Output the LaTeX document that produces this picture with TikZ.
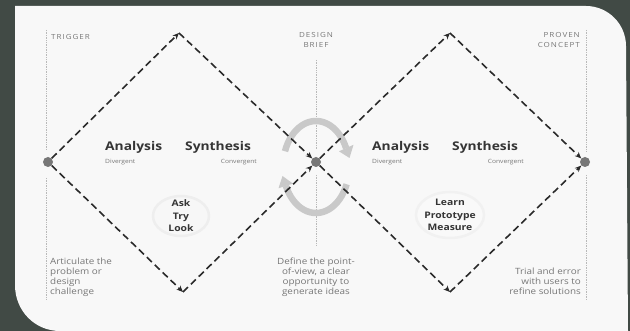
\documentclass[tikz,border=0pt]{standalone}
\usepackage{fontspec}
\setmainfont{Open Sans}[FakeStretch=1.15]
\usetikzlibrary{arrows.meta}
\definecolor{bgdark}{HTML}{414A45}
\definecolor{card}{HTML}{F8F8F8}
\definecolor{dashc}{HTML}{2A2A2A}
\definecolor{dotc}{HTML}{777777}
\definecolor{smallc}{HTML}{777777}
\definecolor{bigc}{HTML}{353535}
\definecolor{cycc}{HTML}{C9C9C9}
\begin{document}
\begin{tikzpicture}[x=1pt,y=-1pt,
  dashline/.style={draw=dashc,line width=1.6pt,dash pattern=on 7pt off 4pt,-{Stealth[length=6.5pt,width=5.5pt]}},
  bigdot/.style={circle,fill=dotc,minimum size=10pt,inner sep=0pt},
  vline/.style={draw=gray!55,line width=0.7pt,densely dotted},
  biglab/.style={inner sep=0pt,text=bigc,font=\fontsize{12}{14}\selectfont\bfseries},
  sublab/.style={inner sep=0pt,text=smallc,font=\fontsize{5.8}{7}\selectfont},
  caplab/.style={inner sep=0pt,text=smallc,font=\fontsize{7}{10.5}\selectfont\addfontfeature{LetterSpace=14}},
  desc/.style={inner sep=0pt,text=smallc,font=\fontsize{8.6}{10}\selectfont},
  method/.style={inner sep=0pt,text=bigc,font=\fontsize{9}{12.5}\selectfont\bfseries,align=center},
  cyc/.style={draw=cycc,line width=6.5pt},
  cychead/.style={fill=cycc}
]
\useasboundingbox (0,0) rectangle (630,331);
\fill[bgdark] (0,0) rectangle (630,331);
\fill[card] (15,6) -- (586,6) .. controls (608,6) and (626,24) .. (626,46) -- (628,331) -- (60,331) .. controls (35,331) and (15,311) .. (15,285) -- cycle;

% vertical guide lines
\draw[vline] (46,30) -- (46,150);
\draw[vline] (46,178) -- (46,300);
\draw[vline] (316,60) -- (316,150);
\draw[vline] (316,175) -- (316,245);
\draw[vline] (586,30) -- (586,152);
\draw[vline] (586,175) -- (586,300);

% central cycle arrows
\draw[cyc] (316,167) ++(200:33 and 46) arc[start angle=200,end angle=336,x radius=33,y radius=46];
\fill[cychead] (349.5,158) -- (339,151.3) -- (353.5,144.8) -- cycle;
\draw[cyc] (316,167) ++(22:33 and 46) arc[start angle=22,end angle=156,x radius=33,y radius=46];
\fill[cychead] (282.5,176) -- (293,183.6) -- (278.5,188.3) -- cycle;

% glows
\fill[gray!6] (181,216) ellipse[x radius=28,y radius=20];
\draw[gray!13,line width=2.5pt] (181,216) ellipse[x radius=28,y radius=20];
\fill[gray!5] (450,215) ellipse[x radius=34,y radius=23];
\draw[gray!11,line width=2.5pt] (450,215) ellipse[x radius=34,y radius=23];

% dots and apexes
\node[bigdot] (L) at (48,162) {};
\node[bigdot] (C) at (316,162) {};
\node[bigdot] (R) at (585,162) {};
\coordinate (T1) at (179,33);
\coordinate (B1) at (183,292);
\coordinate (T2) at (450,33);
\coordinate (B2) at (450,292);

\draw[dashline] (L) -- (T1);
\draw[dashline] (T1) -- (C);
\draw[dashline] (L) -- (B1);
\draw[dashline] (B1) -- (C);
\draw[dashline] (C) -- (T2);
\draw[dashline] (T2) -- (R);
\draw[dashline] (C) -- (B2);
\draw[dashline] (B2) -- (R);

% big labels
\node[biglab,anchor=base west] (a1) at (105,151) {Analysis};
\node[biglab,anchor=base west] (s1) at (185,151) {Synthesis};
\node[sublab,anchor=base west] (d1) at (105,164) {Divergent};
\node[sublab,anchor=base east] (c1) at (257,164) {Convergent};
\node[biglab,anchor=base west] (a2) at (372,151) {Analysis};
\node[biglab,anchor=base west] (s2) at (452,151) {Synthesis};
\node[sublab,anchor=base west] (d2) at (372,164) {Divergent};
\node[sublab,anchor=base east] (c2) at (524,164) {Convergent};

% top labels
\node[caplab,anchor=north west] (trig) at (51,34) {TRIGGER};
\node[caplab,anchor=north,align=center] (brief) at (316,32) {DESIGN\\BRIEF};
\node[caplab,anchor=north east,align=right] (proven) at (580,32) {PROVEN\\CONCEPT};

% bottom descriptions
\node[desc,anchor=north west,align=left] (art) at (50,258) {Articulate the\\problem or\\design\\challenge};
\node[desc,anchor=north,align=center] (def) at (316,258) {Define the point-\\of-view, a clear\\opportunity to\\generate ideas};
\node[desc,anchor=north east,align=right] (trial) at (581,268) {Trial and error\\with users to\\refine solutions};

% methods
\node[method] (atl) at (181,216) {Ask\\Try\\Look};
\node[method] (lpm) at (450,215) {Learn\\Prototype\\Measure};
\end{tikzpicture}
\end{document}
